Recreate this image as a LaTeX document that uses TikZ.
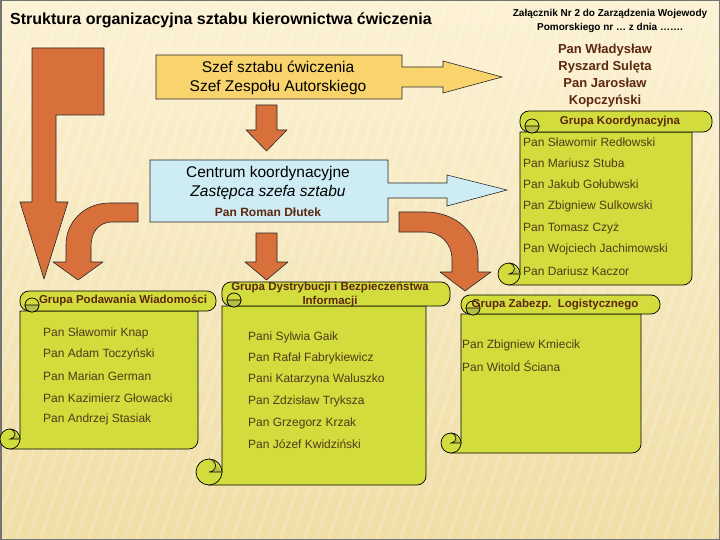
\documentclass[tikz,border=0pt]{standalone}
\usepackage{fontspec}
\setmainfont{Liberation Sans}

\definecolor{bgtop}{RGB}{252,242,212}
\definecolor{bgbot}{RGB}{240,222,166}
\definecolor{arroworange}{RGB}{216,112,60}
\definecolor{szefyellow}{RGB}{249,212,108}
\definecolor{centrumblue}{RGB}{206,236,244}
\definecolor{scrollgreen}{RGB}{210,220,60}
\definecolor{curlgreen}{RGB}{180,190,70}
\definecolor{itemtext}{RGB}{80,58,28}
\definecolor{titlebrown}{RGB}{92,40,16}

% scroll: left, band top, band right, band bottom, body right, body bottom, curl radius
\newcommand{\scrollshape}[7]{%
  \draw[scrollfill] (#1,#4) -- (#5,#4) [rounded corners=9pt] -- (#5,#6) [sharp corners] -- (#1-#7,#6) -- (#1,#6-#7) -- cycle;
  \draw[scrollfill] (#1-#7,#6-#7) circle (#7);
  \draw[curl] (#1-#7,#6-#7-#7) arc[start angle=-90, end angle=90, radius=#7/2] -- (#1,#6-#7);
  \draw[scrollfill, rounded corners=9pt] (#1,#2) rectangle (#3,#4);
  \draw[scrollfill] (#1+12,#4-6) circle (7);
  \draw[curl] (#1+5,#4-6) arc[start angle=180, end angle=0, radius=7] -- cycle;
}

\begin{document}
\begin{tikzpicture}[x=1pt,y=-1pt,
  arrowfill/.style={fill=arroworange, draw=black!85, line width=0.6pt, line join=round},
  scrollfill/.style={fill=scrollgreen, draw=black, line width=0.7pt},
  curl/.style={fill=curlgreen, draw=black, line width=0.6pt},
  item/.style={anchor=west, inner sep=0pt, text=itemtext, font=\fontsize{12}{14}\selectfont},
  grouptitle/.style={inner sep=0pt, text=titlebrown, font=\bfseries\fontsize{11.5}{15}\selectfont, align=center},
  boxtext/.style={inner sep=0pt, align=center, font=\fontsize{15.5}{19}\selectfont}]

  % Background
  \useasboundingbox (0,0) rectangle (720,540);
  \fill[top color=bgtop, bottom color=bgbot] (0,0) rectangle (720,540);
  \begin{scope}
    \clip (0,0) rectangle (720,540);
    \foreach \s in {-200,-188,...,720}
      \draw[white, opacity=0.18, line width=3pt] (\s,540) -- (\s+180,0);
  \end{scope}
  \draw[black!55, line width=1.5pt] (0.75,0.75) rectangle (719.25,539.25);

  % Headings
  \node[anchor=west, inner sep=0pt, font=\bfseries\fontsize{16}{18}\selectfont] (title) at (10,20) {Struktura organizacyjna sztabu kierownictwa ćwiczenia};
  \node[inner sep=0pt, align=center, font=\bfseries\fontsize{10}{14}\selectfont] (annex) at (610,21) {Załącznik Nr 2 do Zarządzenia Wojewody\\Pomorskiego nr … z dnia …….};

  % Long arrow on the left
  \draw[arrowfill] (32,48) -- (104,48) -- (104,115) -- (56,115) -- (56,202) -- (68,202) -- (44,279) -- (20,202) -- (32,202) -- cycle;

  % Szef sztabu
  \draw[fill=szefyellow, draw=black!85, line width=0.6pt] (156,55) -- (402,55) -- (402,67) -- (443,67) -- (443,61) -- (502,77) -- (443,93) -- (443,87) -- (402,87) -- (402,99) -- (156,99) -- cycle;
  \node[boxtext] (szef) at (278,78) {Szef sztabu ćwiczenia\\Szef Zespołu Autorskiego};
  \node[inner sep=0pt, align=center, text=titlebrown, font=\bfseries\fontsize{13}{17}\selectfont] (koordnames) at (605,76) {Pan Władysław\\Ryszard Sulęta\\Pan Jarosław\\Kopczyński};

  \draw[arrowfill] (256,105) -- (277,105) -- (277,130) -- (287,130) -- (266.5,151) -- (246,130) -- (256,130) -- cycle;

  % Centrum koordynacyjne
  \draw[fill=centrumblue, draw=black!85, line width=0.6pt] (150,160) -- (388,160) -- (388,183) -- (447,183) -- (447,175) -- (507,190) -- (447,206) -- (447,198) -- (388,198) -- (388,222) -- (150,222) -- cycle;
  \node[boxtext] (centrum) at (268,173) {Centrum koordynacyjne};
  \node[boxtext, font=\itshape\fontsize{15.5}{19}\selectfont] (zastepca) at (268,192) {Zastępca szefa sztabu};
  \node[inner sep=0pt, text=titlebrown, font=\bfseries\fontsize{12}{14}\selectfont] (dlutek) at (268,212) {Pan Roman Dłutek};

  % Arrows below the centre
  \draw[arrowfill] (138,203) -- (110,203) .. controls (84,203) and (66,222) .. (66,245) -- (66,262) -- (53,262) -- (78,280) -- (103,262) -- (91,262) -- (91,246) .. controls (91,232) and (99,222) .. (112,222) -- (138,222) -- cycle;
  \draw[arrowfill] (256,233) -- (277,233) -- (277,262) -- (288,262) -- (266.5,280) -- (245,262) -- (256,262) -- cycle;
  \draw[arrowfill] (399,212) -- (425,212) .. controls (458,212) and (478,235) .. (478,258) -- (478,272) -- (491,272) -- (465,291) -- (440,272) -- (452,272) -- (452,260) .. controls (452,243) and (440,232) .. (425,232) -- (399,232) -- cycle;

  % Grupa Koordynacyjna
  \scrollshape{520}{111}{712}{132}{692}{285}{11}
  \node[grouptitle] (koord) at (620,122) {Grupa Koordynacyjna};
  \node[item] (k1) at (523,142) {Pan Sławomir Redłowski};
  \node[item] (k2) at (523,163) {Pan Mariusz Stuba};
  \node[item] (k3) at (523,184) {Pan Jakub Gołubwski};
  \node[item] (k4) at (523,206) {Pan Zbigniew Sulkowski};
  \node[item] (k5) at (523,228) {Pan Tomasz Czyż};
  \node[item] (k6) at (523,249) {Pan Wojciech Jachimowski};
  \node[item] (k7) at (523,271) {Pan Dariusz Kaczor};

  % Grupa Podawania Wiadomości
  \scrollshape{20}{291}{216}{311}{198}{449}{10}
  \node[grouptitle] (podaw) at (123,300) {Grupa Podawania Wiadomości};
  \node[item] (p1) at (43,333) {Pan Sławomir Knap};
  \node[item] (p2) at (43,354) {Pan Adam Toczyński};
  \node[item] (p3) at (43,376) {Pan Marian German};
  \node[item] (p4) at (43,398) {Pan Kazimierz Głowacki};
  \node[item] (p5) at (43,419) {Pan Andrzej Stasiak};

  % Grupa Dystrybucji i Bezpieczeństwa Informacji
  \scrollshape{222}{282}{450}{306}{426}{485}{13}
  \node[grouptitle, font=\bfseries\fontsize{11.5}{14.5}\selectfont] (dystr) at (330,294.5) {Grupa Dystrybucji i Bezpieczeństwa\\Informacji};
  \node[item] (d1) at (248,337) {Pani Sylwia Gaik};
  \node[item] (d2) at (248,358) {Pan Rafał Fabrykiewicz};
  \node[item] (d3) at (248,379) {Pani Katarzyna Waluszko};
  \node[item] (d4) at (248,401) {Pan Zdzisław Tryksza};
  \node[item] (d5) at (248,423) {Pan Grzegorz Krzak};
  \node[item] (d6) at (248,444) {Pan Józef Kwidziński};

  % Grupa Zabezp. Logistycznego
  \scrollshape{461}{295}{660}{314}{641}{453}{10}
  \node[grouptitle] (zabezp) at (555,305) {Grupa Zabezp.\ \ Logistycznego};
  \node[item] (z1) at (462,345) {Pan Zbigniew Kmiecik};
  \node[item] (z2) at (462,366) {Pan Witold Ściana};
\end{tikzpicture}
\end{document}
